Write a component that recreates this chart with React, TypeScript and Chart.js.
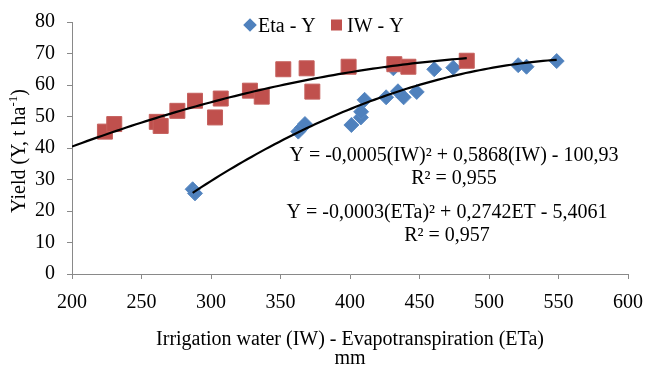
import React, { useEffect, useRef } from "react";
import { Chart, registerables } from "chart.js";

Chart.register(...registerables);

// ---- data ----
const iwX = [223.7, 230.4, 261, 263.8, 275.8, 288.5, 302.9, 307, 328, 336.5, 352, 368.8, 372.9, 399, 431.9, 442, 484];
const iwY = [45.2, 47.6, 48.3, 47.0, 51.8, 55.0, 49.7, 55.7, 58.2, 56.3, 65.0, 65.3, 57.9, 65.8, 66.6, 65.8, 67.7];

const etX = [286.8, 288.5, 362.8, 365.5, 367.6, 401, 407.8, 408, 410.5, 426, 431.2, 434.5, 438.6, 448, 460.6, 474.3, 521, 527, 548.7];
const etY = [26.9, 25.6, 45.2, 46.5, 47.6, 47.3, 49.7, 51.5, 55.3, 56.1, 65.3, 58.0, 56.1, 57.8, 65.0, 65.5, 66.3, 65.8, 67.6];

const xMin = 200;
const xMax = 600;
const xStep = 50;
const yMin = 0;
const yMax = 80;
const yStep = 10;

const legendLabels = ["Eta - Y", "IW - Y"];
const xTitle = "Irrigation water (IW) - Evapotranspiration (ETa)";
const xTitle2 = "mm";
const yTitleMain = "Yield (Y, t ha";
const yTitleSup = "-1";
const yTitleEnd = ")";
const eqIW = ["Y = -0,0005(IW)\u00B2 + 0,5868(IW) - 100,93", "R\u00B2 = 0,955"];
const eqET = ["Y = -0,0003(ETa)\u00B2 + 0,2742ET - 5,4061", "R\u00B2 = 0,957"];

const BLUE = "#4F81BD";
const RED = "#C0504D";
const AXIS = "#898989";
const FONT = "'Liberation Serif', 'Times New Roman', serif";

// quadratic least-squares trendline (as the spreadsheet's polynomial trendline)
function quadFit(xs: number[], ys: number[]) {
  const n = xs.length;
  const m = xs.reduce((a, b) => a + b, 0) / n;
  let s1 = 0, s2 = 0, s3 = 0, s4 = 0, t0 = 0, t1 = 0, t2 = 0;
  for (let i = 0; i < n; i++) {
    const u = xs[i] - m;
    const y = ys[i];
    s1 += u; s2 += u * u; s3 += u * u * u; s4 += u * u * u * u;
    t0 += y; t1 += u * y; t2 += u * u * y;
  }
  const A = [
    [n, s1, s2, t0],
    [s1, s2, s3, t1],
    [s2, s3, s4, t2],
  ];
  for (let c = 0; c < 3; c++) {
    let p = c;
    for (let r = c + 1; r < 3; r++) if (Math.abs(A[r][c]) > Math.abs(A[p][c])) p = r;
    [A[c], A[p]] = [A[p], A[c]];
    for (let r = 0; r < 3; r++) {
      if (r === c) continue;
      const f = A[r][c] / A[c][c];
      for (let k = c; k < 4; k++) A[r][k] -= f * A[c][k];
    }
  }
  const c0 = A[0][3] / A[0][0];
  const c1 = A[1][3] / A[1][1];
  const c2 = A[2][3] / A[2][2];
  return (x: number) => {
    const u = x - m;
    return c0 + c1 * u + c2 * u * u;
  };
}

function trend(xs: number[], ys: number[], from: number, to: number) {
  const f = quadFit(xs, ys);
  const pts: { x: number; y: number }[] = [];
  const steps = 80;
  for (let i = 0; i <= steps; i++) {
    const x = from + ((to - from) * i) / steps;
    pts.push({ x, y: f(x) });
  }
  return pts;
}

const textPlugin = {
  id: "textPlugin",
  afterDraw(chart: any) {
    const ctx = chart.ctx as CanvasRenderingContext2D;
    const area = chart.chartArea;
    ctx.save();
    ctx.fillStyle = "#000";
    ctx.textBaseline = "alphabetic";

    // legend
    ctx.font = `20px ${FONT}`;
    ctx.textAlign = "left";
    ctx.fillStyle = BLUE;
    ctx.beginPath();
    const dx = 250, dy = 25, dr = 6.8;
    ctx.moveTo(dx - dr, dy);
    ctx.lineTo(dx, dy - dr);
    ctx.lineTo(dx + dr, dy);
    ctx.lineTo(dx, dy + dr);
    ctx.closePath();
    ctx.fill();
    ctx.fillStyle = "#000";
    ctx.fillText(legendLabels[0], 258, 31.5);
    ctx.fillStyle = RED;
    ctx.fillRect(331, 19.5, 11, 11);
    ctx.fillStyle = "#000";
    ctx.fillText(legendLabels[1], 347, 31.5);

    // equations
    ctx.textAlign = "center";
    ctx.fillText(eqIW[0], 454, 161);
    ctx.fillText(eqIW[1], 454, 184);
    ctx.fillText(eqET[0], 447, 218);
    ctx.fillText(eqET[1], 447, 241);

    // x title
    const cx = (area.left + area.right) / 2;
    ctx.fillText(xTitle, cx, 345);
    ctx.fillText(xTitle2, cx, 364);

    // y title (rotated)
    ctx.save();
    ctx.translate(18, 151);
    ctx.rotate(-Math.PI / 2);
    ctx.textAlign = "left";
    ctx.font = `20px ${FONT}`;
    const w1 = ctx.measureText(yTitleMain).width;
    const w3 = ctx.measureText(yTitleEnd).width;
    ctx.font = `13px ${FONT}`;
    const w2 = ctx.measureText(yTitleSup).width;
    const total = w1 + w2 + w3;
    let x0 = -total / 2;
    ctx.font = `20px ${FONT}`;
    ctx.fillText(yTitleMain, x0, 7);
    x0 += w1;
    ctx.font = `13px ${FONT}`;
    ctx.fillText(yTitleSup, x0, -1);
    x0 += w2;
    ctx.font = `20px ${FONT}`;
    ctx.fillText(yTitleEnd, x0, 7);
    ctx.restore();

    ctx.restore();
  },
};

export default function App() {
  const ref = useRef<HTMLCanvasElement | null>(null);

  useEffect(() => {
    if (!ref.current) return;
    const iwPts = iwX.map((x, i) => ({ x, y: iwY[i] }));
    const etPts = etX.map((x, i) => ({ x, y: etY[i] }));
    const iwTrend = trend(iwX, iwY, xMin, Math.max(...iwX));
    const etTrend = trend(etX, etY, Math.min(...etX), Math.max(...etX));

    const chart = new Chart(ref.current, {
      type: "scatter",
      data: {
        datasets: [
          {
            label: "IW trend",
            data: iwTrend,
            showLine: true,
            borderColor: "#000",
            borderWidth: 2.2,
            pointRadius: 0,
            tension: 0,
          },
          {
            label: "ETa trend",
            data: etTrend,
            showLine: true,
            borderColor: "#000",
            borderWidth: 2.2,
            pointRadius: 0,
            tension: 0,
          },
          {
            label: legendLabels[1],
            data: iwPts,
            pointStyle: "rect",
            pointRadius: 10.6,
            backgroundColor: RED,
            borderColor: "#C5605D",
            borderWidth: 1,
          },
          {
            label: legendLabels[0],
            data: etPts,
            pointStyle: "rectRot",
            pointRadius: 7.5,
            backgroundColor: BLUE,
            borderColor: "#5A89C2",
            borderWidth: 1,
          },
        ],
      },
      options: {
        animation: false,
        responsive: false,
        maintainAspectRatio: false,
        layout: { padding: { top: 22, right: 18, left: 0, bottom: 0 } },
        plugins: {
          legend: { display: false },
          tooltip: { enabled: false },
          title: { display: false },
        },
        scales: {
          x: {
            type: "linear",
            min: xMin,
            max: xMax,
            ticks: {
              stepSize: xStep,
              autoSkip: false,
              maxRotation: 0,
              padding: 12,
              color: "#000",
              font: { family: FONT, size: 20 },
            },
            grid: { drawOnChartArea: false, drawTicks: true, tickLength: 5, color: AXIS },
            border: { display: true, color: AXIS, width: 1 },
            afterFit: (s: any) => {
              s.height = 94;
              s.paddingLeft = 0;
              s.paddingRight = 0;
            },
          },
          y: {
            type: "linear",
            min: yMin,
            max: yMax,
            ticks: {
              stepSize: yStep,
              padding: 12,
              color: "#000",
              font: { family: FONT, size: 20 },
            },
            grid: { drawOnChartArea: false, drawTicks: true, tickLength: 5, color: AXIS },
            border: { display: true, color: AXIS, width: 1 },
            afterFit: (s: any) => {
              s.width = 72;
              s.paddingTop = 0;
              s.paddingBottom = 0;
            },
          },
        },
      },
      plugins: [textPlugin],
    });
    return () => chart.destroy();
  }, []);

  return (
    <div style={{ position: "fixed", left: 0, top: 0, width: 646, height: 368, background: "#fff" }}>
      <canvas ref={ref} width={646} height={368} style={{ display: "block", width: 646, height: 368 }} />
    </div>
  );
}
